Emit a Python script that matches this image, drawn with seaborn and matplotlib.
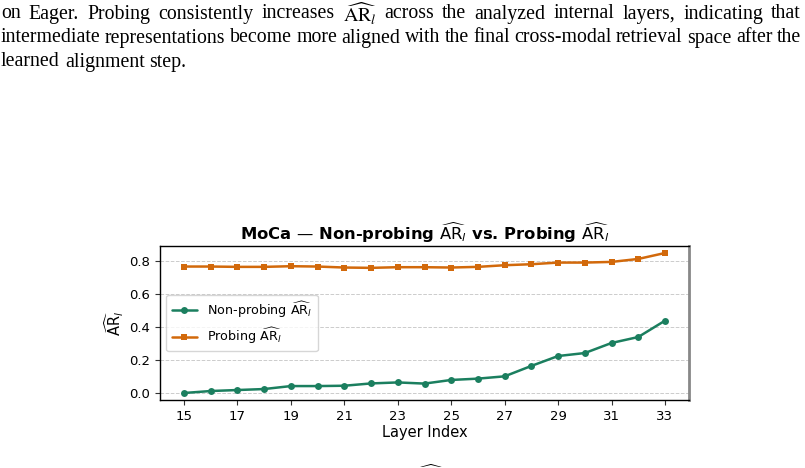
import numpy as np
import pandas as pd
import matplotlib
matplotlib.use('Agg')
import matplotlib.pyplot as plt
import seaborn as sns

# paper text above the figure (first two lines are justified)
text_lines = [
    r"on Eager. Probing consistently increases $\widehat{\mathrm{AR}}_l$ across the analyzed internal layers, indicating that",
    "intermediate representations become more aligned with the final cross-modal retrieval space after the",
    "learned alignment step.",
]

layers = list(range(15, 34))
non_probing = [0.000, 0.012, 0.018, 0.024, 0.042, 0.042, 0.044, 0.058, 0.064,
               0.057, 0.079, 0.087, 0.101, 0.164, 0.224, 0.242, 0.303, 0.339, 0.438]
probing = [0.766, 0.766, 0.764, 0.764, 0.768, 0.766, 0.760, 0.758, 0.762,
           0.762, 0.760, 0.764, 0.774, 0.780, 0.790, 0.790, 0.794, 0.812, 0.848]

ar = r"$\widehat{\mathrm{AR}}_l$"
df = pd.DataFrame({
    'layer': layers * 2,
    'value': non_probing + probing,
    'series': [f'Non-probing {ar}'] * len(layers) + [f'Probing {ar}'] * len(layers),
})

sns.set_style('white')
plt.rcParams['font.family'] = ['DejaVu Sans']
plt.rcParams['text.color'] = 'black'
plt.rcParams['axes.labelcolor'] = 'black'
plt.rcParams['xtick.color'] = 'black'
plt.rcParams['ytick.color'] = 'black'

W, H = 805, 468
fig = plt.figure(figsize=(W / 100, H / 100), dpi=100)
renderer = fig.canvas.get_renderer()


def put_line(line, y_px, justify, x0=1, x1=801, size=14.3):
    words = line.split(' ')
    objs = [fig.text(0, 1 - y_px / H, w, fontsize=size, family=['Liberation Serif'],
                     va='center', ha='left', math_fontfamily='stix') for w in words]
    widths = [o.get_window_extent(renderer).width for o in objs]
    t1 = fig.text(0, 0, 'a a', fontsize=size, family=['Liberation Serif'])
    t2 = fig.text(0, 0, 'aa', fontsize=size, family=['Liberation Serif'])
    sp = t1.get_window_extent(renderer).width - t2.get_window_extent(renderer).width
    t1.remove()
    t2.remove()
    if justify and len(words) > 1:
        sp = (x1 - x0 - sum(widths)) / (len(words) - 1)
    x = x0
    for o, w in zip(objs, widths):
        o.set_x(x / W)
        x += w + sp


for i, line in enumerate(text_lines):
    put_line(line, 14 + 24 * i, justify=(i < 2))

ax = fig.add_axes([160 / W, 1 - 400 / H, 529 / W, 154 / H])

palette = ['#1b7f5f', '#d2690b']
sns.lineplot(data=df, x='layer', y='value', hue='series', style='series',
             markers=['o', 's'], dashes=False, palette=palette, ax=ax,
             linewidth=1.8, markersize=5, markeredgewidth=0)

ax.set_xticks(range(15, 34, 2))
ax.set_yticks([0.0, 0.2, 0.4, 0.6, 0.8])
ax.yaxis.grid(True, linestyle='--', color='#cccccc', linewidth=0.7)
ax.tick_params(axis='both', which='both', length=3.5, width=0.8,
               labelsize=9.5, left=True, bottom=True, color='#333333')
for s in ['left', 'bottom', 'top']:
    ax.spines[s].set_color('black')
    ax.spines[s].set_linewidth(1.0)
ax.spines['right'].set_color('#888888')
ax.spines['right'].set_linewidth(2.0)

ax.set_xlabel('Layer Index', fontsize=10.5, labelpad=2)
ax.set_ylabel(ar, fontsize=10.5, labelpad=2)
ax.set_title(f'MoCa — Non-probing {ar} vs. Probing {ar}', fontsize=11.8,
             fontweight='bold', pad=4)

leg = ax.legend(loc='center left', fontsize=9.2, frameon=True, title=None)
leg.get_frame().set_edgecolor('#cccccc')

# hat of a cut-off line at the bottom of the page
fig.text(430 / W, 1 - 462 / H, r"$\widehat{\ \ \ \ \ }$", fontsize=13,
         ha='center', va='center', math_fontfamily='stix')

fig.savefig('out.png', dpi=100)
